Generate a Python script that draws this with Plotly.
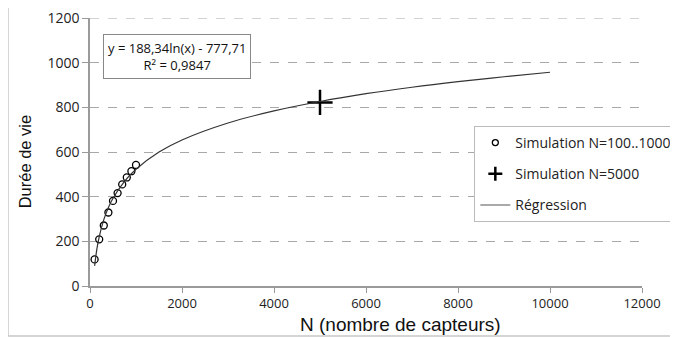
import plotly.graph_objects as go

# Simulation N=100..1000
sim_n = [100, 200, 300, 400, 500, 600, 700, 800, 900, 1000]
sim_duree = [119, 209, 271, 329, 381, 416, 455, 486, 514, 542]

# Simulation N=5000
big_n = [5000]
big_duree = [822]

# Regression curve
reg_n = [100, 150, 200, 300, 400, 500, 750, 1000, 1500, 2000, 3000, 4000,
         5000, 6000, 7000, 8000, 9000, 10000]
reg_duree = [90, 166, 220, 297, 351, 393, 469, 523, 600, 654, 730, 784,
             826, 861, 890, 915, 937, 957]

x_ticks = [0, 2000, 4000, 6000, 8000, 10000, 12000]
x_labels = ["0", "2000", "4000", "6000", "8000", "10000", "12000"]
y_ticks = [0, 200, 400, 600, 800, 1000, 1200]

FONT = "Open Sans"
TITLE_FONT = "Liberation Sans"
GRID = "#a8a8a8"

fig = go.Figure()

# data traces (legend entries drawn separately so the symbols stay small)
fig.add_trace(go.Scatter(
    x=sim_n, y=sim_duree, mode="markers", showlegend=False,
    marker=dict(symbol="circle-open", size=7, color="black", line=dict(width=1.3)),
))
fig.add_trace(go.Scatter(
    x=big_n, y=big_duree, mode="markers", showlegend=False,
    marker=dict(symbol="cross-thin", size=18, color="black", line=dict(width=2.5, color="black")),
))
fig.add_trace(go.Scatter(
    x=reg_n, y=reg_duree, mode="lines", showlegend=False,
    line=dict(color="#333333", width=1.2, shape="spline"),
))

# legend-only entries
fig.add_trace(go.Scatter(
    x=[None], y=[None], mode="markers", name="Simulation N=100..1000", legendgroup="a",
    marker=dict(symbol="circle-open", size=6, color="black", line=dict(width=1.3)),
))
fig.add_trace(go.Scatter(
    x=[None], y=[None], mode="markers", name="Simulation N=5000", legendgroup="b",
    marker=dict(symbol="cross-thin", size=10, color="black", line=dict(width=2.5, color="black")),
))
fig.add_trace(go.Scatter(
    x=[None], y=[None], mode="lines", name="Régression", legendgroup="c",
    line=dict(color="#555555", width=1.2),
))

fig.update_layout(
    width=678, height=337,
    margin=dict(l=82, r=44, t=10, b=59, autoexpand=False),
    paper_bgcolor="white", plot_bgcolor="white",
    font=dict(family=FONT, color="#222222", size=13),
    showlegend=True,
    legend=dict(
        x=1.064, xanchor="right", y=0.597, yanchor="top",
        bordercolor="#bbbbbb", borderwidth=1, bgcolor="white",
        font=dict(size=14, family=FONT),
        itemsizing="trace", tracegroupgap=10,
    ),
    xaxis=dict(
        range=[0, 12000], tickvals=x_ticks, ticktext=x_labels, showgrid=False,
        showline=True, linecolor="#9a9a9a", linewidth=1.5,
        ticks="outside", ticklen=5, tickcolor="#9a9a9a",
        tickfont=dict(size=13, family=FONT), zeroline=False, automargin=False,
        ticklabeloverflow="allow",
    ),
    yaxis=dict(
        range=[0, 1200], tickvals=y_ticks,
        showgrid=True, gridcolor=GRID, griddash="dash", gridwidth=1,
        showline=True, linecolor="#9a9a9a", linewidth=1.5,
        ticks="outside", ticklen=6, tickcolor="#9a9a9a",
        tickfont=dict(size=14, family=FONT), zeroline=False, automargin=False,
        ticklabeloverflow="allow",
    ),
    annotations=[
        dict(
            text="y = 188,34ln(x) - 777,71<br>R² = 0,9847",
            xref="paper", yref="paper", x=0.158, y=0.856, xanchor="center", yanchor="middle",
            showarrow=False, align="center",
            font=dict(size=13, family=FONT, color="#111111"),
            bordercolor="#888888", borderwidth=1, borderpad=4, bgcolor="white",
        ),
        dict(
            text="N (nombre de capteurs)", xref="paper", yref="paper",
            x=0.5616, y=-0.142, xanchor="center", yanchor="middle", showarrow=False,
            font=dict(size=19, family=TITLE_FONT, color="#111111"),
        ),
        dict(
            text="Durée de vie", xref="paper", yref="paper", textangle=-90,
            x=-0.1178, y=0.465, xanchor="center", yanchor="middle", showarrow=False,
            font=dict(size=16.5, family=TITLE_FONT, color="#111111"),
        ),
    ],
    shapes=[
        # outer chart frame
        dict(
            type="rect", xref="paper", yref="paper",
            x0=-0.1486, x1=1.0616, y0=-0.187, y1=1.0448,
            line=dict(color="#c8c8c8", width=1.5), layer="below",
        ),
        # top gridline (plotly drops it at the range edge)
        dict(
            type="line", xref="paper", yref="y", x0=0, x1=1,
            y0=y_ticks[-1], y1=y_ticks[-1],
            line=dict(color=GRID, width=1, dash="dash"), layer="below",
        ),
    ],
)

fig.write_html("out.html")
